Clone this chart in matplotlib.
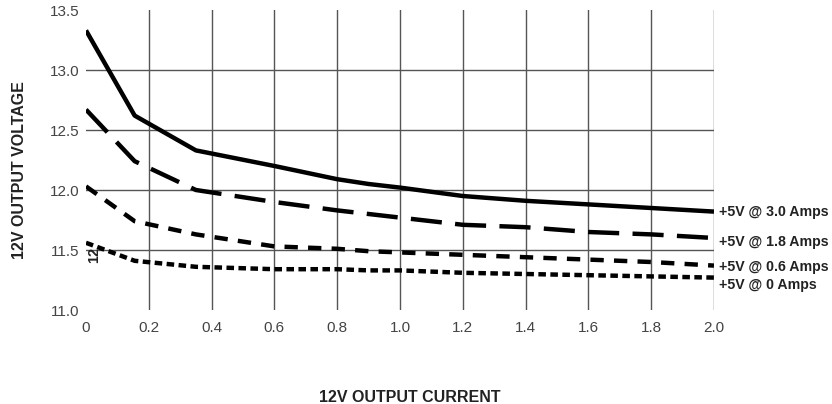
import matplotlib.pyplot as plt

plt.rcParams["font.family"] = ["Liberation Sans", "DejaVu Sans"]

current = [0, 0.155, 0.35, 0.6, 0.8, 0.9, 1.0, 1.2, 1.4, 1.6, 1.8, 2.0]
v_3_0 = [13.33, 12.62, 12.33, 12.20, 12.09, 12.05, 12.02, 11.95, 11.91, 11.88, 11.85, 11.82]
v_1_8 = [12.67, 12.24, 12.00, 11.90, 11.83, 11.80, 11.77, 11.71, 11.69, 11.65, 11.63, 11.60]
v_0_6 = [12.03, 11.74, 11.63, 11.53, 11.51, 11.49, 11.48, 11.46, 11.44, 11.42, 11.40, 11.37]
v_0_0 = [11.56, 11.41, 11.36, 11.34, 11.34, 11.33, 11.33, 11.31, 11.30, 11.29, 11.28, 11.27]

labels = ["+5V @ 3.0 Amps", "+5V @ 1.8 Amps", "+5V @ 0.6 Amps", "+5V @ 0 Amps"]
label_y = [11.82, 11.57, 11.36, 11.21]

fig = plt.figure(figsize=(8.32, 4.04), dpi=100)
ax = fig.add_axes([86 / 832, 1 - 310 / 404, 628 / 832, 300 / 404])

ax.set_xlim(0, 2.0)
ax.set_ylim(11.0, 13.5)
ax.set_xticks([0, 0.2, 0.4, 0.6, 0.8, 1.0, 1.2, 1.4, 1.6, 1.8, 2.0])
ax.set_xticklabels(["0", "0.2", "0.4", "0.6", "0.8", "1.0", "1.2", "1.4", "1.6", "1.8", "2.0"])
ax.set_yticks([11.0, 11.5, 12.0, 12.5, 13.0, 13.5])
ax.set_yticklabels(["11.0", "11.5", "12.0", "12.5", "13.0", "13.5"])
ax.tick_params(length=0, labelsize=11, colors="#444444")
ax.tick_params(axis="x", pad=8)
ax.tick_params(axis="y", pad=5)
for s in ax.spines.values():
    s.set_visible(False)

# grid lines (none at x=0, y=11 and y=13.5)
for x in [0.2, 0.4, 0.6, 0.8, 1.0, 1.2, 1.4, 1.6, 1.8, 2.0]:
    ax.axvline(x, color="#555555", lw=1, zorder=1)
for y in [11.5, 12.0, 12.5, 13.0]:
    ax.axhline(y, color="#555555", lw=1, zorder=1)

ax.plot(current, v_3_0, color="black", lw=3.2, solid_capstyle="butt", zorder=3)
ax.plot(current, v_1_8, color="black", lw=3.2, dashes=(7, 3), zorder=3)
ax.plot(current, v_0_6, color="black", lw=3.2, dashes=(3, 2.3), zorder=3)
ax.plot(current, v_0_0, color="black", lw=3.2, dashes=(1.7, 1.0), zorder=3)

for lab, y in zip(labels, label_y):
    ax.text(2.015, y, lab, fontsize=10.2, fontweight="bold", va="center", ha="left",
            color="#222222", clip_on=False)

ax.text(0.026, 11.46, "12", fontsize=10.5, fontweight="bold", rotation=90,
        ha="center", va="center", color="#222222", zorder=5)

fig.text(410 / 832, 1 - 397 / 404, "12V OUTPUT CURRENT", fontsize=11.5, fontweight="bold",
         ha="center", va="center", color="#222222")
fig.text(20 / 832, 1 - 170 / 404, "12V OUTPUT VOLTAGE", fontsize=11.5, fontweight="bold",
         rotation=90, ha="center", va="center", color="#222222")

fig.savefig("out.png", dpi=100)
